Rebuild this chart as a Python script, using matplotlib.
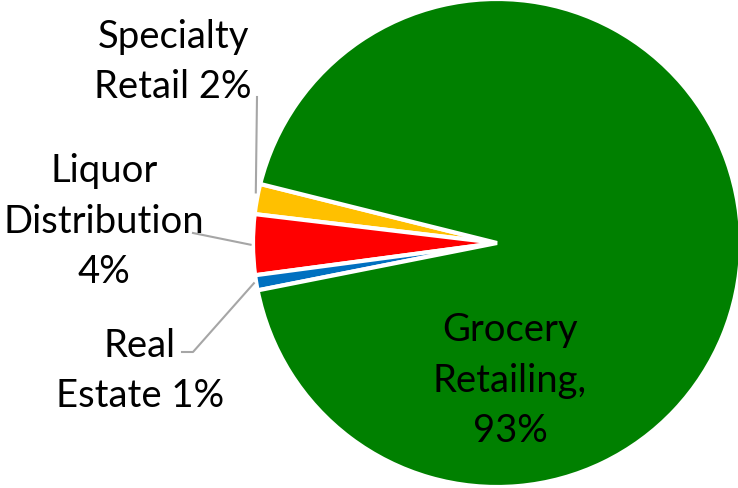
import numpy as np
import matplotlib.pyplot as plt

labels = ["Specialty\nRetail 2%", "Liquor\nDistribution\n4%", "Real\nEstate 1%", "Grocery\nRetailing,\n93%"]
shares = [2, 4, 1, 93]
colors = ["#FFC000", "#FF0000", "#0070C0", "#008000"]

plt.rcParams['font.family'] = ['Lato', 'DejaVu Sans']

fig = plt.figure(figsize=(7.38, 4.89), dpi=100)
ax = fig.add_axes([0, 0, 1, 1])

cx, cy, r = 497, 245, 244
wedges, _ = ax.pie(shares, colors=colors, startangle=166, counterclock=True,
                   center=(cx, cy), radius=r,
                   wedgeprops=dict(edgecolor="white", linewidth=3))
ax.set_xlim(0, 738)
ax.set_ylim(0, 489)
ax.set_aspect("equal")
ax.axis("off")

fs = 27.5
ls = 1.5
grey = "#A6A6A6"

def edge_point(w, frac=0.5, rr=1.0):
    a = np.deg2rad(w.theta1 + frac * (w.theta2 - w.theta1))
    return cx + r * rr * np.cos(a), cy + r * rr * np.sin(a)

# Specialty Retail
x0, y0 = edge_point(wedges[0], 0.3, 1.01)
ax.plot([x0, 257], [y0, 391], color=grey, lw=1.5)
ax.text(252, 427, labels[0], ha="right", va="center", fontsize=fs, linespacing=ls, multialignment="center")

# Liquor Distribution
x0, y0 = edge_point(wedges[1], 0.5, 1.01)
ax.plot([x0, 193], [y0, 255], color=grey, lw=1.5)
ax.text(104, 267, labels[1], ha="center", va="center", fontsize=fs, linespacing=ls)

# Real Estate
x0, y0 = edge_point(wedges[2], 0.5, 1.01)
ax.plot([x0, 193, 182], [y0, 136, 136], color=grey, lw=1.5)
ax.text(140, 118, labels[2], ha="center", va="center", fontsize=fs, linespacing=ls)

# Grocery Retailing
ax.text(510, 108, labels[3], ha="center", va="center", fontsize=fs, linespacing=ls)

fig.savefig("out.png", dpi=100)
